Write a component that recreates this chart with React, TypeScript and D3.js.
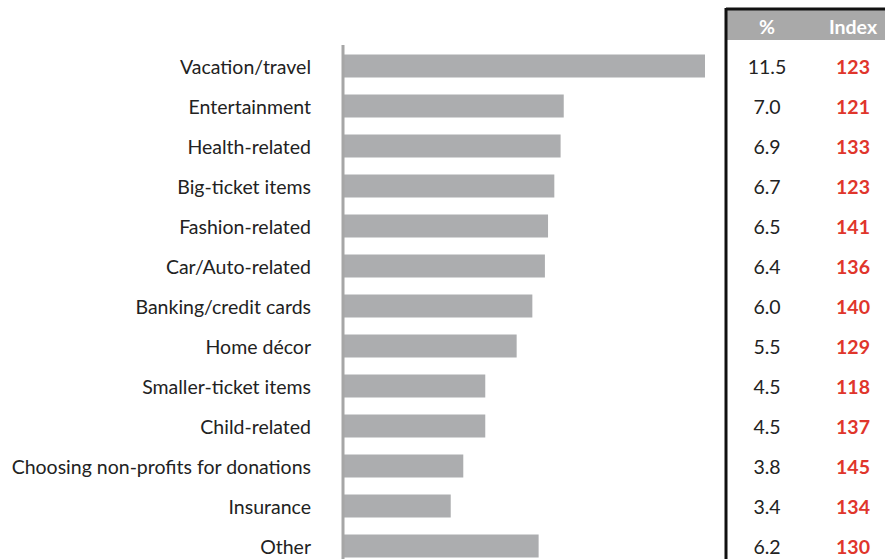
import React from "react";
import * as d3 from "d3";

const categories = [
  "Vacation/travel",
  "Entertainment",
  "Health-related",
  "Big-ticket items",
  "Fashion-related",
  "Car/Auto-related",
  "Banking/credit cards",
  "Home décor",
  "Smaller-ticket items",
  "Child-related",
  "Choosing non-profits for donations",
  "Insurance",
  "Other",
];
const pctValues = [11.5, 7.0, 6.9, 6.7, 6.5, 6.4, 6.0, 5.5, 4.5, 4.5, 3.8, 3.4, 6.2];
const indexValues = [123, 121, 133, 123, 141, 136, 140, 129, 118, 137, 145, 134, 130];
const headers = ["%", "Index"];

const W = 885;
const H = 559;
const FONT = "Lato, 'Open Sans', sans-serif";
const FS = 19.5;

export default function App() {
  const x = d3.scaleLinear().domain([0, 11.5]).range([344, 705]);
  const y = d3
    .scaleBand<string>()
    .domain(categories)
    .range([46, 46 + 40 * categories.length])
    .paddingInner(0.425)
    .paddingOuter(0.2125);
  const bw = y.bandwidth();
  const pctX = 767;
  const idxX = 853;
  return (
    <div style={{ position: "fixed", left: 0, top: 0, width: W, height: H, overflow: "hidden", background: "#fff" }}>
      <svg width={W} height={H} style={{ display: "block" }}>
        <rect x={0} y={0} width={W} height={H} fill="#fff" />
        {categories.map((c, i) => {
          const cy = (y(c) as number) + bw / 2;
          return (
            <g key={c}>
              <rect x={x(0)} y={y(c)} width={x(pctValues[i]) - x(0)} height={bw} fill="#acadaf" />
              <text x={311} y={cy} textAnchor="end" dominantBaseline="central" fontFamily={FONT} fontSize={FS} fill="#222">
                {c}
              </text>
              <text x={pctX} y={cy} textAnchor="middle" dominantBaseline="central" fontFamily={FONT} fontSize={FS} fill="#222">
                {d3.format(".1f")(pctValues[i])}
              </text>
              <text x={idxX} y={cy} textAnchor="middle" dominantBaseline="central" fontFamily={FONT} fontSize={FS} fontWeight="bold" fill="#e0352b">
                {indexValues[i]}
              </text>
            </g>
          );
        })}
        <line x1={343} x2={343} y1={45} y2={H} stroke="#a6a6a6" strokeWidth={3} />
        <rect x={727} y={10} width={W - 727} height={30} fill="#a9a9a9" />
        <text x={pctX} y={26} textAnchor="middle" dominantBaseline="central" fontFamily={FONT} fontSize={FS} fontWeight="bold" fill="#fff">
          {headers[0]}
        </text>
        <text x={idxX} y={26} textAnchor="middle" dominantBaseline="central" fontFamily={FONT} fontSize={FS} fontWeight="bold" fill="#fff">
          {headers[1]}
        </text>
        <line x1={726} x2={W} y1={9} y2={9} stroke="#111" strokeWidth={3} />
        <line x1={726} x2={726} y1={8} y2={H} stroke="#111" strokeWidth={3} />
      </svg>
    </div>
  );
}
